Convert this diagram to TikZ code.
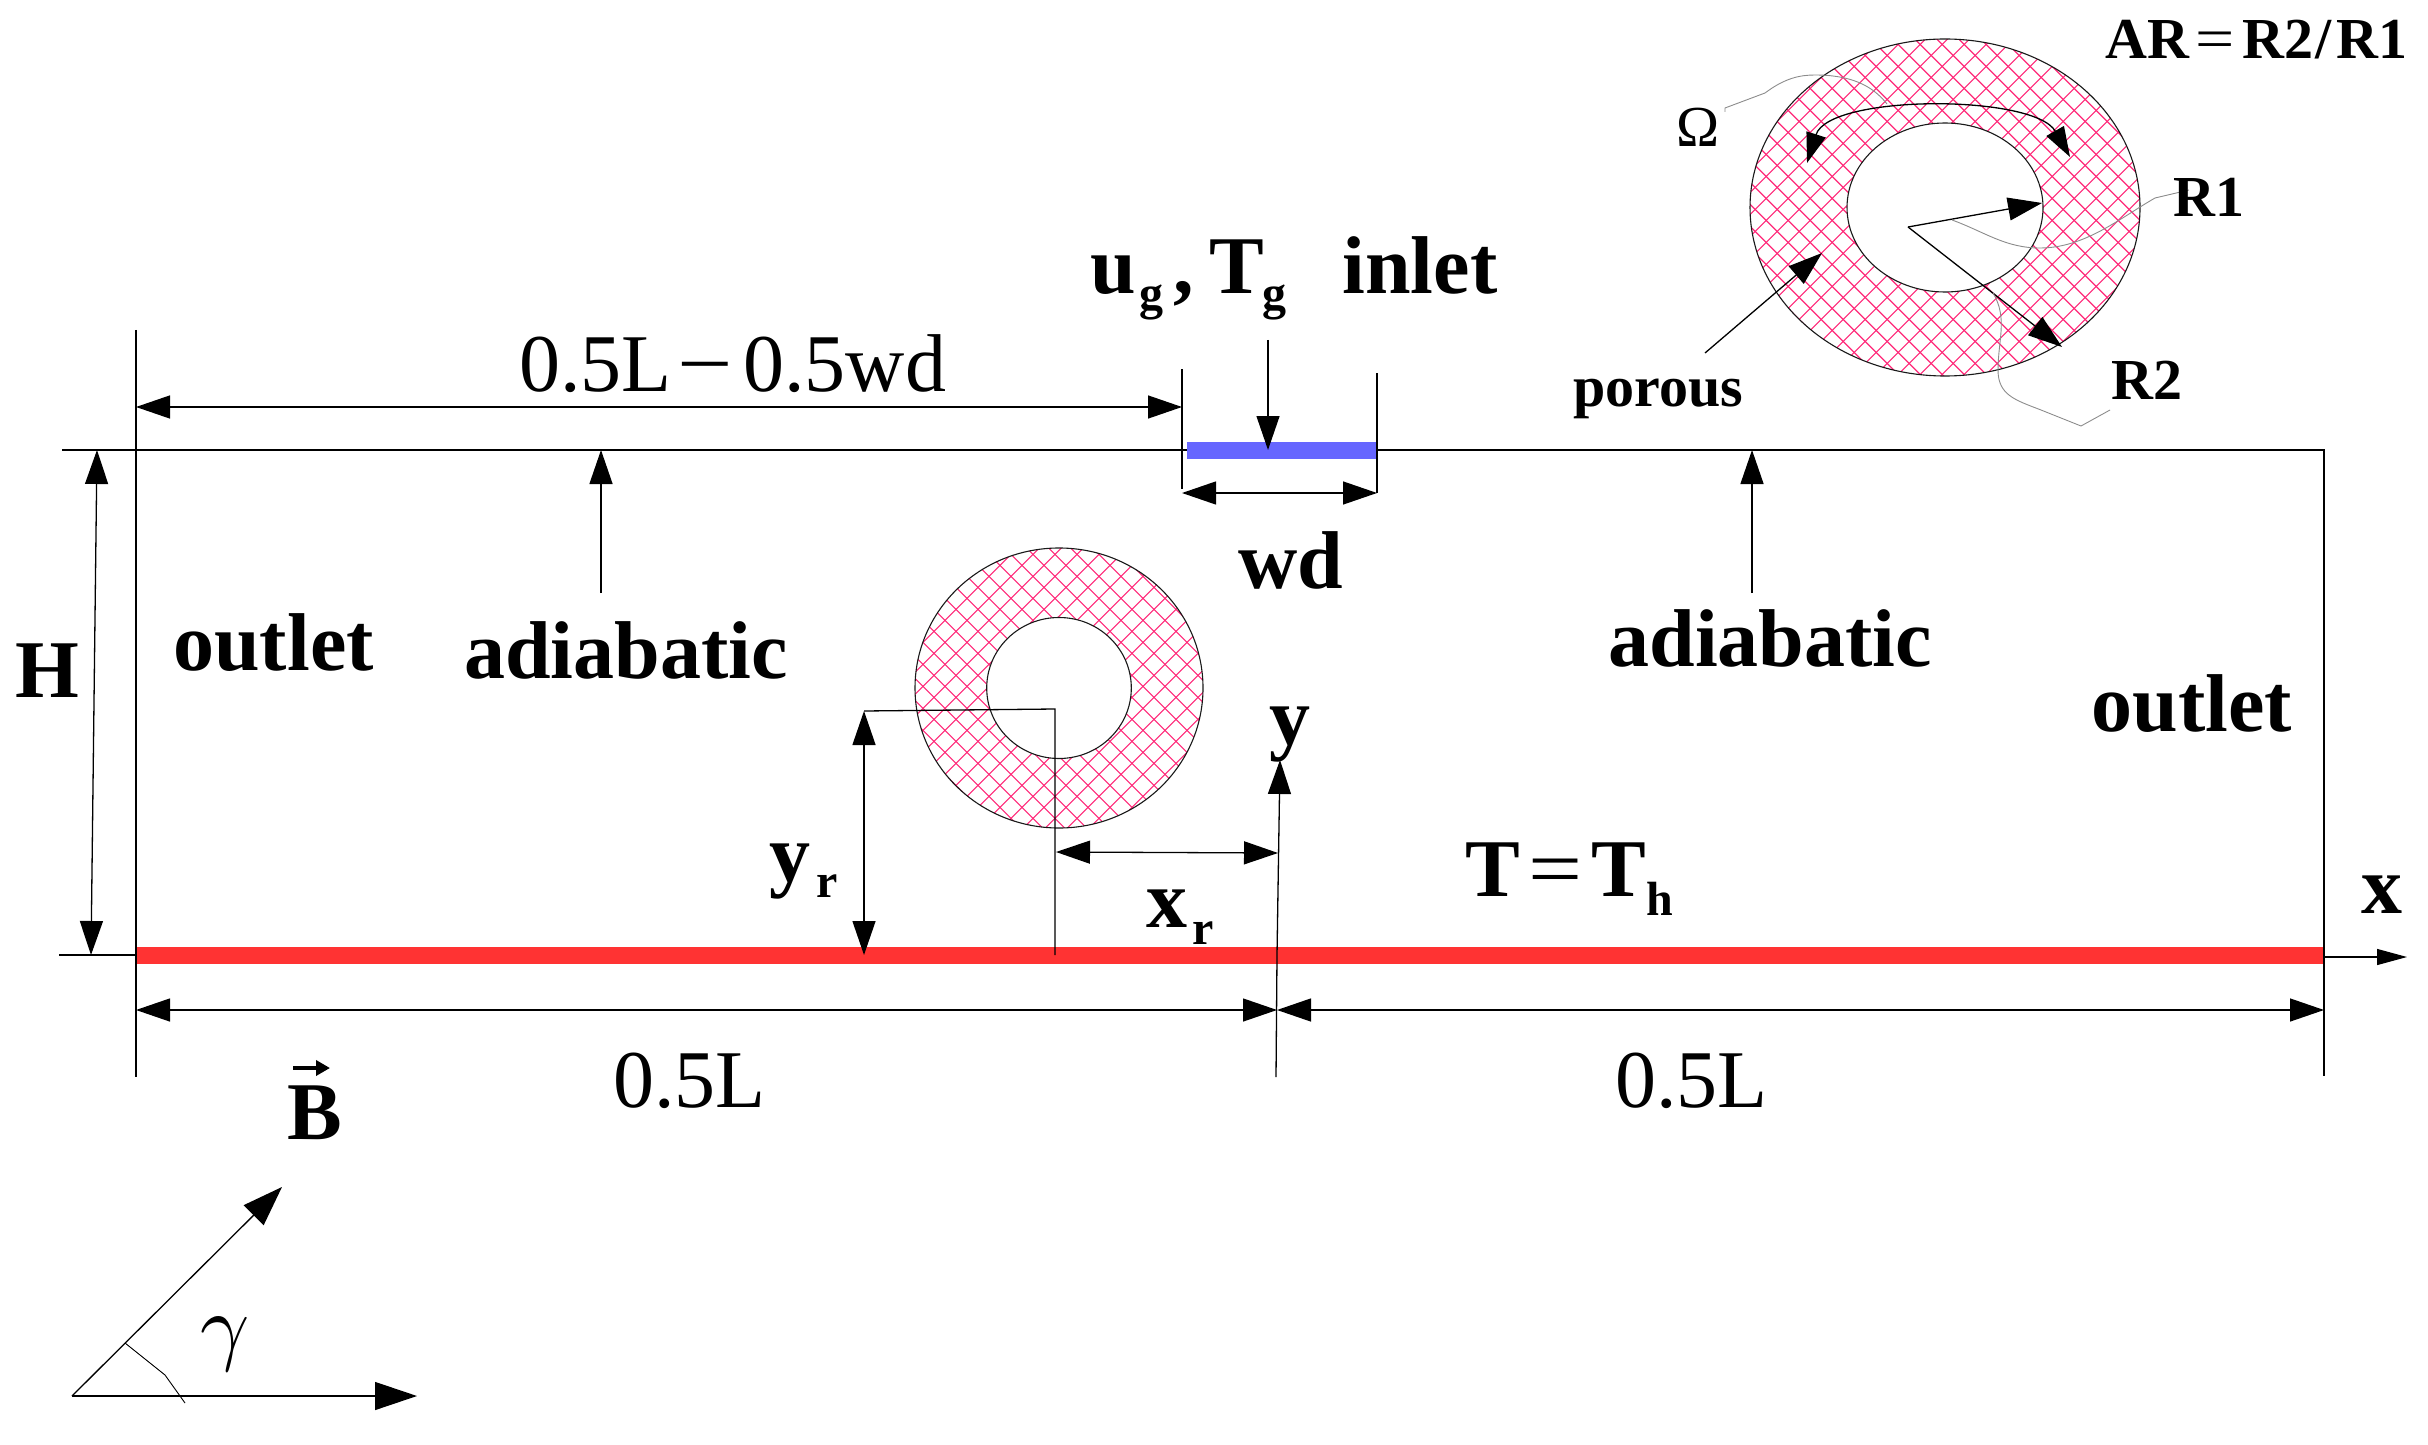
\documentclass[tikz,border=0pt]{standalone}
\usepackage{graphicx}
\usepackage{fontspec}
\setmainfont{Liberation Serif}
\usetikzlibrary{arrows.meta}
\tikzset{
  x=0.5pt,y=-0.5pt,
  thin line/.style={line width=0.65pt,black},
  tipped/.style={thin line,-{Triangle[length=17pt,width=11.5pt]}},
  dbl/.style={thin line,{Triangle[length=17pt,width=11.5pt]}-{Triangle[length=17pt,width=11.5pt]}},
  arcdbl/.style={thin line,{Triangle[length=15pt,width=10pt]}-{Triangle[length=15pt,width=10pt]}},
  leader/.style={line width=0.45pt,black!45},
  hatch/.style={line width=0.55pt,hatchcol},
  ring/.style={line width=0.55pt,black!90},
  lab/.style={inner sep=0pt,anchor=base west},
  bigb/.style={lab,font=\fontsize{41}{45}\selectfont\bfseries},
  subb/.style={lab,font=\fontsize{24}{26}\selectfont\bfseries},
  bigr/.style={lab,font=\fontsize{41}{45}\selectfont},
  midb/.style={lab,font=\fontsize{29}{32}\selectfont\bfseries},
  midr/.style={lab,font=\fontsize{29}{32}\selectfont},
}
\definecolor{hatchcol}{RGB}{255,40,120}
\definecolor{barred}{RGB}{255,51,51}
\definecolor{barblue}{RGB}{102,102,255}
\newcommand{\hatchlines}[3]{% centre, offset of the falling lines, offset of the rising lines
  \foreach \d in {-440,-418,...,440}{
    \draw[hatch] ([xshift=\d*0.5pt+#2*0.5pt-130pt,yshift=130pt]#1) -- ([xshift=\d*0.5pt+#2*0.5pt+130pt,yshift=-130pt]#1);
    \draw[hatch] ([xshift=\d*0.5pt+#3*0.5pt-130pt,yshift=-130pt]#1) -- ([xshift=\d*0.5pt+#3*0.5pt+130pt,yshift=130pt]#1);
  }}
\begin{document}
\begin{tikzpicture}
\useasboundingbox (0,0) rectangle (2428,1444);
% bars
\fill[barred] (136,947) rectangle (2324,964);
\fill[barblue] (1187,442) rectangle (1377,459);
% frame and extension lines
\coordinate (TR) at (2324,450);
\draw[thin line] (62,450) -- (1187,450);
\draw[thin line] (1377,450) -- (TR) -- (2324,1076);
\draw[thin line] (136,330) -- (136,1077);
\draw[thin line] (1182,369) -- (1182,489);
\draw[thin line] (1377,373) -- (1377,493);
\draw[thin line] (59,955) -- (136,955);
% x axis
\draw[thin line,-{Triangle[length=15pt,width=8pt]}] (2324,957) -- (2407,957);
% y axis
\coordinate (ytip) at (1280,760);
\draw[tipped] (1276,1077) -- (1277,955) -- (ytip);
% small ring
\coordinate (sc) at (1059,688);
\begin{scope}
  \clip (sc) ellipse [x radius=144,y radius=140];
  \hatchlines{sc}{19.7}{16.3}
\end{scope}
\draw[ring] (sc) ellipse [x radius=144,y radius=140];
\draw[ring,fill=white] (sc) ellipse [x radius=72.3,y radius=70.5];
% position lines of the ring centre
\coordinate (rc) at (1055,709);
\coordinate (ryt) at (864,711);
\coordinate (ryb) at (864,955);
\coordinate (rcb) at (1055,955);
\draw[thin line] (ryt) -- (rc) -- (rcb);
\draw[dbl] (ryt) -- (ryb);
\coordinate (rxl) at (1056,852); \coordinate (rxr) at (1278,853);
\draw[dbl] (rxl) -- (rxr);
% big ring
\coordinate (bc) at (1945,207.5);
\begin{scope}
  \clip (bc) ellipse [x radius=195,y radius=168.5];
  \hatchlines{bc}{6.2}{10.1}
\end{scope}
\draw[ring] (bc) ellipse [x radius=195,y radius=168.5];
\draw[ring,fill=white] (bc) ellipse [x radius=98,y radius=84.5];
% big ring annotations
\coordinate (arcl) at (1807,163); \coordinate (arcr) at (2070,157);
\draw[arcdbl] (arcl) .. controls (1829,94) and (2034,94) .. (arcr);
\coordinate (rad) at (1908,227);
\coordinate (r1t) at (2042,203); \coordinate (r2t) at (2062,347);
\draw[tipped] (rad) -- (r1t);
\draw[tipped] (rad) -- (r2t);
\coordinate (pors) at (1705,353); \coordinate (port) at (1822,253);
\draw[tipped] (pors) -- (port);
\draw[leader] (1725,112) -- (1725,108) -- (1765,93) .. controls (1785,78) and (1800,75) .. (1815,75) .. controls (1850,75) and (1872,85) .. (1887,104);
\draw[leader] (2189,190) -- (2155,198) .. controls (2120,218) and (2085,248) .. (2040,248) .. controls (2005,248) and (1985,232) .. (1952,220);
\draw[leader] (2110,410) -- (2081,426) -- (2041,410) .. controls (2015,400) and (1998,395) .. (1998,370) .. controls (1998,340) and (2008,318) .. (1993,293);
% dimensions
\draw[dbl] (136,407) -- (1182,407);
\draw[dbl] (1182,493) -- (1377,493);
\coordinate (inl) at (1268,340); \coordinate (inlt) at (1268,450);
\draw[tipped] (inl) -- (inlt);
\draw[tipped] (601,593) -- (601,450);
\draw[tipped] (1752,593) -- (1752,450);
\draw[dbl] (97,450) -- (91,955);
\draw[dbl] (136,1010) -- (1277,1010);
\draw[dbl] (1277,1010) -- (2324,1010);
% field vector and angle
\coordinate (O) at (72,1396);
\coordinate (Bt) at (282,1187); \coordinate (Ht) at (417,1396);
\draw[thin line,-{Triangle[length=20pt,width=14pt]}] (O) -- (Bt);
\draw[thin line,-{Triangle[length=21pt,width=14pt]}] (O) -- (Ht);
\draw[line width=0.45pt] (125,1343) -- (165,1375) -- (185,1403);
\draw[line width=2pt,-{Triangle[length=7pt,width=7.5pt]}] (293,1068) -- (330,1068);
% text
\node[bigb] (tu) at (1090,294) {u};
\node[subb] (tg) at (1139,310) {g};
\node[bigb] (tc) at (1173,294) {,};
\node[bigb] (tT) at (1209,294) {T};
\node[subb] (tg2) at (1262,310) {g};
\node[bigb] (tin) at (1342,294) {inlet};
\node[bigb] (twd) at (1238,588) {wd};
\node[bigb] (to1) at (173,670) {outlet};
\node[bigb] (ta1) at (464,678) {adiabatic};
\node[bigb] (ta2) at (1608,666) {adiabatic};
\node[bigb] (to2) at (2091,731) {outlet};
\node[bigb] (tH) at (15,697) {H};
\node[bigb] (tyr) at (769,881) {y};
\node[subb] (tyrr) at (816,897) {r};
\node[bigb] (txr) at (1146,927) {x};
\node[subb] (txrr) at (1192,944) {r};
\node[bigb] (ty) at (1269,744) {y};
\node[bigb] (tx) at (2361,913) {x};
\node[bigb] (tT1) at (1465,896) {T};
\node[bigr] (teq) at (1528,896) {\scalebox{1.17}[1]{=}};
\node[bigb] (tT2) at (1591,896) {T};
\node[subb] (th) at (1646,915) {h};
\node[bigr] (tdima) at (519,391) {0.5L};
\node[bigr] (tdimm) at (677,391) {\scalebox{1.2}[1]{−}};
\node[bigr] (tdimb) at (743,391) {0.5wd};
\node[bigr] (tl1) at (613,1107) {0.5L};
\node[bigr] (tl2) at (1615,1107) {0.5L};
\node[bigb] (tB) at (287,1139) {B};
\node[lab] (tgam) at (200,1354) {\scalebox{4.3}{$\gamma$}};
\node[midb] (tar) at (2105,59) {AR};
\node[midr] (tare) at (2195,59) {\scalebox{1.2}[1]{=}};
\node[midb] (tarb) at (2242,59) {R2};
\node[midb] (tars) at (2315,59) {/};
\node[midb] (tarc) at (2336,59) {R1};
\node[midb] (tr1) at (2173,217) {R1};
\node[midb] (tr2) at (2111,399) {R2};
\node[midr] (tom) at (1676,147) {Ω};
\node[midb] (tpor) at (1573,406) {porous};
\end{tikzpicture}
\end{document}
